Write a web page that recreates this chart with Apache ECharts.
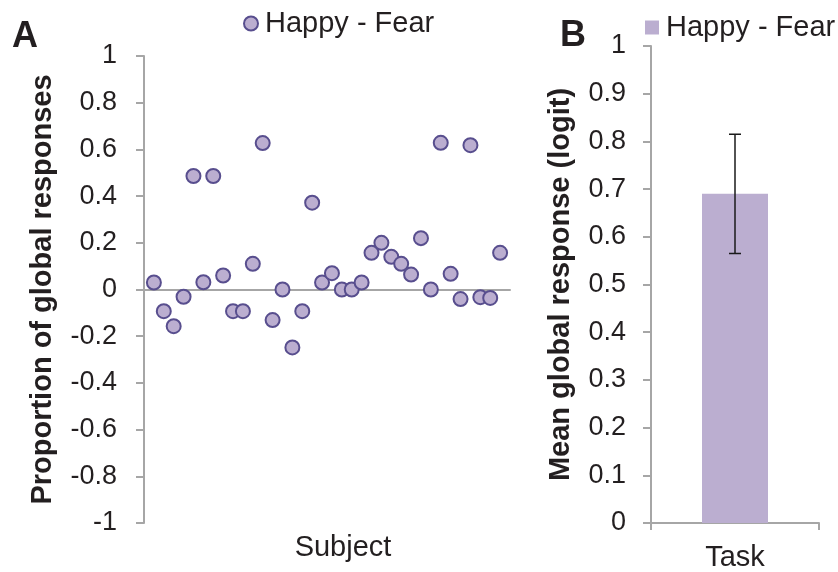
<!DOCTYPE html>
<html>
<head>
<meta charset="utf-8">
<script src="https://cdn.jsdelivr.net/npm/echarts@6/dist/echarts.min.js"></script>
<style>
  html, body { margin: 0; padding: 0; background: #fff; }
  #chart { width: 838px; height: 572px; }
</style>
</head>
<body>
<div id="chart"></div>
<script>
// Panel A: per-subject difference in proportion of global responses
const subjects = [1, 2, 3, 4, 5, 6, 7, 8, 9, 10, 11, 12, 13, 14, 15, 16, 17, 18,
                  19, 20, 21, 22, 23, 24, 25, 26, 27, 28, 29, 30, 31, 32, 33, 34, 35, 36];
const happyFear = [0.03, -0.093, -0.157, -0.031, 0.486, 0.031, 0.486, 0.06, -0.093, -0.093,
                   0.11, 0.627, -0.131, 0.0, -0.248, -0.093, 0.372, 0.03, 0.07, 0.0,
                   0.0, 0.03, 0.157, 0.2, 0.14, 0.11, 0.064, 0.22, 0.0, 0.628,
                   0.067, -0.041, 0.618, -0.033, -0.036, 0.157];
const leftTicks = { min: -1, max: 1, interval: 0.2 };

// Panel B: mean global response with error bar
const barCategories = ['Task'];
const barMean = [0.69];
const barError = [0.125];
const rightTicks = { min: 0, max: 1, interval: 0.1 };

const seriesName = 'Happy - Fear';
const fillColor = '#bbaed0';
const edgeColor = '#584e8e';
const axisGray = '#a6a6a6';
const textColor = '#231f20';
const font = 'Liberation Sans, Arial, sans-serif';

const chart = echarts.init(document.getElementById('chart'), null, { renderer: 'canvas' });

const fmt = v => String(+v.toFixed(1));
const tickLabel = { fontSize: 27, color: textColor, fontFamily: font, formatter: fmt };
const axisName = { fontSize: 29, fontWeight: 'bold', color: textColor, fontFamily: font };

chart.setOption({
  animation: false,
  textStyle: { fontFamily: font, color: textColor },
  title: [
    { text: 'A', left: 7, top: 14, textStyle: { fontSize: 36, fontWeight: 'bold', color: textColor, fontFamily: font } },
    { text: 'B', left: 555, top: 13, textStyle: { fontSize: 36, fontWeight: 'bold', color: textColor, fontFamily: font } }
  ],
  legend: [
    {
      left: 238, top: 4, itemWidth: 14, itemHeight: 14,
      data: [{ name: seriesName, icon: 'circle', itemStyle: { color: fillColor, borderColor: edgeColor, borderWidth: 2 } }],
      textStyle: { fontSize: 29, color: textColor, fontFamily: font, padding: [0, 0, 0, 2] },
      selectedMode: false
    },
    {
      left: 640, top: 8, itemWidth: 14, itemHeight: 14,
      data: [{ name: seriesName, icon: 'rect', itemStyle: { color: fillColor, borderWidth: 0 } }],
      textStyle: { fontSize: 29, color: textColor, fontFamily: font, padding: [0, 0, 0, 2] },
      selectedMode: false
    }
  ],
  grid: [
    { left: 144, top: 56, width: 366, height: 467 },
    { left: 651, top: 46, width: 168, height: 477 }
  ],
  xAxis: [
    {
      gridIndex: 0, type: 'value', min: 0, max: subjects.length + 1,
      name: 'Subject', nameLocation: 'middle', nameGap: 10,
      nameTextStyle: { fontSize: 29, color: textColor, fontFamily: font, padding: [0, 0, 0, 32] },
      axisLine: { onZero: true, lineStyle: { color: axisGray, width: 2 } },
      axisTick: { show: false }, axisLabel: { show: false }, splitLine: { show: false }
    },
    {
      gridIndex: 1, type: 'category', data: barCategories,
      axisLine: { lineStyle: { color: axisGray, width: 2 } },
      axisTick: { show: true, alignWithLabel: false, length: 7, lineStyle: { color: axisGray, width: 2 } },
      axisLabel: { fontSize: 29, color: textColor, margin: 20, fontFamily: font },
      splitLine: { show: false }
    }
  ],
  yAxis: [
    {
      gridIndex: 0, type: 'value', min: leftTicks.min, max: leftTicks.max, interval: leftTicks.interval,
      name: 'Proportion of global responses', nameLocation: 'middle', nameGap: 87,
      nameTextStyle: axisName,
      axisLine: { show: true, lineStyle: { color: axisGray, width: 2 } },
      axisTick: { show: true, length: 8, lineStyle: { color: axisGray, width: 2 } },
      axisLabel: Object.assign({ margin: 27 }, tickLabel),
      splitLine: { show: false }
    },
    {
      gridIndex: 1, type: 'value', min: rightTicks.min, max: rightTicks.max, interval: rightTicks.interval,
      name: 'Mean global response (logit)', nameLocation: 'middle', nameGap: 76,
      nameTextStyle: axisName,
      axisLine: { show: true, lineStyle: { color: axisGray, width: 2 } },
      axisTick: { show: true, length: 8, lineStyle: { color: axisGray, width: 2 } },
      axisLabel: Object.assign({ margin: 25 }, tickLabel),
      splitLine: { show: false }
    }
  ],
  series: [
    {
      name: seriesName, type: 'scatter', xAxisIndex: 0, yAxisIndex: 0,
      symbol: 'circle', symbolSize: 14,
      itemStyle: { color: fillColor, borderColor: edgeColor, borderWidth: 2, opacity: 1 },
      data: subjects.map((s, i) => [s, happyFear[i]])
    },
    {
      name: seriesName, type: 'bar', xAxisIndex: 1, yAxisIndex: 1,
      barWidth: 66,
      itemStyle: { color: fillColor },
      data: barMean
    },
    {
      name: 'error', type: 'custom', xAxisIndex: 1, yAxisIndex: 1,
      data: barMean.map((m, i) => [i, m - barError[i], m + barError[i]]),
      renderItem: (params, api) => {
        const lo = api.coord([api.value(0), api.value(1)]);
        const hi = api.coord([api.value(0), api.value(2)]);
        const cap = 6;
        const style = { stroke: '#1a1a1a', lineWidth: 1.5 };
        return {
          type: 'group',
          children: [
            { type: 'line', shape: { x1: hi[0], y1: hi[1], x2: lo[0], y2: lo[1] }, style },
            { type: 'line', shape: { x1: hi[0] - cap, y1: hi[1], x2: hi[0] + cap, y2: hi[1] }, style },
            { type: 'line', shape: { x1: lo[0] - cap, y1: lo[1], x2: lo[0] + cap, y2: lo[1] }, style }
          ]
        };
      },
      z: 5
    }
  ]
});
</script>
</body>
</html>
